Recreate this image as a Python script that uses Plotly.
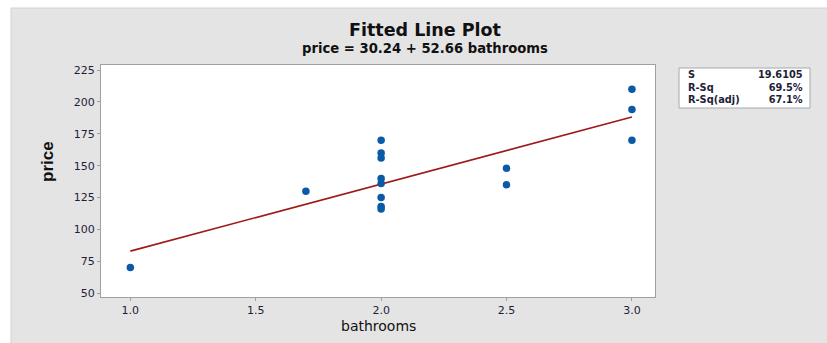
import plotly.graph_objects as go

# Data
bathrooms = [1.0, 1.7, 2.0, 2.0, 2.0, 2.0, 2.0, 2.0, 2.0, 2.0, 2.5, 2.5, 3.0, 3.0, 3.0]
price = [70, 130, 170, 160, 156, 140, 136, 125, 118, 116, 148, 135, 210, 194, 170]
intercept = 30.24
slope = 52.66
fit_x = [1.0, 3.0]
stat_labels = ["S", "R-Sq", "R-Sq(adj)"]
stat_values = ["19.6105", "69.5%", "67.1%"]
x_ticks = [1.0, 1.5, 2.0, 2.5, 3.0]
y_ticks = [50, 75, 100, 125, 150, 175, 200, 225]

W, H = 827, 343
L, R, T, B = 101, 172, 65, 46
PW, PH = W - L - R, H - T - B

def px(x):
    return (x - L) / PW

def py(y):
    return (H - B - y) / PH

FONT = "DejaVu Sans, sans-serif"
TXT = "#1e1e38"

fig = go.Figure()
fig.add_trace(go.Scatter(
    x=fit_x, y=[intercept + slope * v for v in fit_x], mode="lines",
    line=dict(color="#9e1a1a", width=1.6), hoverinfo="skip", showlegend=False))
fig.add_trace(go.Scatter(
    x=bathrooms, y=price, mode="markers",
    marker=dict(color="#0b5aa8", size=7.5, symbol="circle"), showlegend=False))

shapes = [
    dict(type="rect", xref="paper", yref="paper", x0=px(11), x1=px(830), y0=py(346), y1=py(8),
         fillcolor="#e4e4e4", line=dict(color="#d2d2d2", width=1), layer="below"),
    dict(type="rect", xref="paper", yref="paper", x0=0, x1=1, y0=0, y1=1,
         fillcolor="white", line=dict(width=0), layer="below"),
    dict(type="rect", xref="paper", yref="paper", x0=px(679), x1=px(810), y0=py(108), y1=py(68),
         fillcolor="white", line=dict(color="#a8a8a8", width=1), layer="above"),
]

def ann(text, x, y, size, xanchor="center", family=FONT, color="#111", angle=0, align="center"):
    return dict(text=text, xref="paper", yref="paper", x=px(x), y=py(y), xanchor=xanchor,
                yanchor="middle", textangle=angle, showarrow=False, align=align,
                font=dict(family=family, size=size, color=color))

annotations = [
    ann("<b><span style='font-size:17.5px'>Fitted Line Plot</span></b><br>"
        "<b>price = 30.24 + 52.66 bathrooms</b>", 425, 38, 13.2),
    ann("<b>price</b>", 47, 162, 17, family="Liberation Sans Narrow, Liberation Sans, sans-serif", angle=-90),
    ann("bathrooms", 378, 326, 14),
    ann("<b>" + "<br>".join(stat_labels) + "</b>", 686, 87, 9.8, xanchor="left", color=TXT, align="left"),
    ann("<b>" + "<br>".join(stat_values) + "</b>", 805, 87, 9.8, xanchor="right", color=TXT, align="right"),
]

axis_common = dict(showgrid=False, zeroline=False, showline=True, linecolor="#a0a0a0", linewidth=1,
                   mirror=True, ticks="outside", ticklen=3, tickcolor="#a0a0a0",
                   tickfont=dict(family=FONT, size=11, color=TXT))

fig.update_layout(
    width=W, height=H, margin=dict(l=L, r=R, t=T, b=B),
    paper_bgcolor="white", plot_bgcolor="rgba(0,0,0,0)",
    xaxis=dict(range=[0.883, 3.092], tickvals=x_ticks, ticktext=[f"{v:.1f}" for v in x_ticks], **axis_common),
    yaxis=dict(range=[46.9, 229], tickvals=y_ticks, **axis_common),
    shapes=shapes, annotations=annotations, showlegend=False,
)

fig.write_html("out.html")
